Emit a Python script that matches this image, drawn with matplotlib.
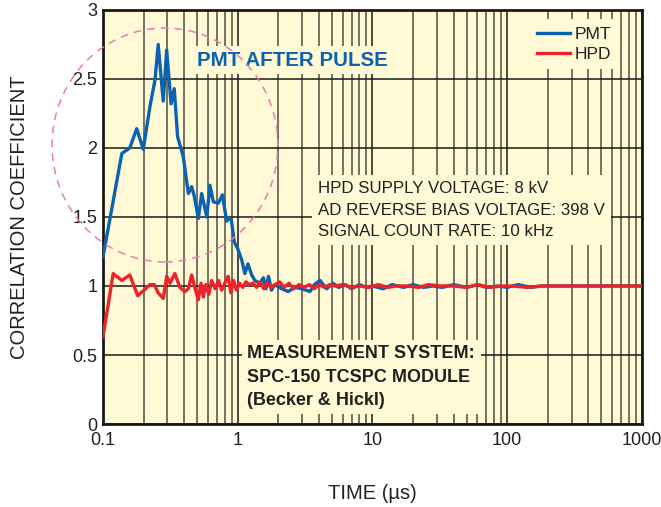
import matplotlib
matplotlib.use("Agg")
import matplotlib.pyplot as plt
from matplotlib.patches import Ellipse
from matplotlib.ticker import LogLocator, NullFormatter

plt.rcParams['font.family'] = ['Liberation Sans', 'DejaVu Sans']

# PMT curve (time in us, correlation coefficient)
pmt_t = [0.1, 0.138, 0.158, 0.178, 0.199, 0.223, 0.243, 0.257, 0.280, 0.297,
         0.320, 0.338, 0.358, 0.394, 0.430, 0.455, 0.476, 0.510, 0.540, 0.589,
         0.622, 0.659, 0.718, 0.769, 0.828, 0.861, 0.896, 0.942, 1.0, 1.07,
         1.13, 1.19, 1.27, 1.34, 1.46, 1.55, 1.62, 1.69, 1.78, 1.88,
         2.12, 2.37, 2.66, 2.99, 3.44, 3.7, 4.08, 4.57, 5.1, 5.6,
         6.3, 7.0, 8.0, 9.0, 10, 12, 14, 17, 20, 24,
         28, 33, 40, 50, 60, 70, 85, 100, 120, 150,
         180, 220, 300, 400, 600, 1000]
pmt_v = [1.21, 1.96, 2.00, 2.14, 1.99, 2.30, 2.49, 2.75, 2.34, 2.71,
         2.32, 2.43, 2.08, 1.94, 1.67, 1.72, 1.65, 1.49, 1.67, 1.50,
         1.73, 1.61, 1.60, 1.66, 1.47, 1.49, 1.48, 1.32, 1.27, 1.19,
         1.09, 1.16, 1.08, 1.04, 1.02, 1.06, 0.98, 1.07, 0.97, 1.01,
         0.98, 0.96, 0.99, 0.98, 0.96, 1.01, 1.04, 0.98, 1.02, 0.99,
         1.01, 0.98, 1.01, 0.99, 1.00, 0.98, 1.01, 0.99, 1.01, 0.99,
         1.00, 0.99, 1.01, 0.99, 1.01, 0.99, 1.00, 0.99, 1.01, 0.99,
         1.00, 1.00, 1.00, 1.00, 1.00, 1.00]

# HPD curve
hpd_t = [0.1, 0.119, 0.138, 0.158, 0.181, 0.202, 0.223, 0.24, 0.257, 0.28,
         0.297, 0.314, 0.342, 0.372, 0.406, 0.43, 0.455, 0.48, 0.51, 0.534,
         0.555, 0.58, 0.61, 0.64, 0.68, 0.72, 0.76, 0.80, 0.85, 0.89,
         0.93, 0.98, 1.03, 1.09, 1.15, 1.22, 1.3, 1.38, 1.47, 1.56,
         1.66, 1.76, 1.9, 2.05, 2.2, 2.4, 2.6, 2.85, 3.1, 3.4,
         3.7, 4.0, 4.4, 4.8, 5.3, 6, 7, 8, 9.5, 11,
         13, 15, 18, 22, 26, 32, 40, 50, 60, 75,
         90, 110, 140, 180, 250, 400, 1000]
hpd_v = [0.63, 1.09, 1.04, 1.08, 0.93, 0.97, 1.01, 1.01, 0.95, 0.91,
         1.07, 1.02, 1.09, 0.99, 0.96, 0.98, 1.08, 0.99, 0.90, 1.02,
         0.92, 1.01, 0.94, 1.04, 0.98, 1.04, 0.97, 1.02, 1.07, 0.95,
         1.04, 0.97, 1.02, 0.99, 1.03, 1.01, 1.02, 0.99, 1.03, 0.98,
         1.02, 0.99, 1.01, 1.03, 0.99, 1.02, 0.98, 1.01, 0.99, 1.01,
         0.98, 1.01, 0.99, 1.01, 1.00, 1.01, 0.99, 1.00, 0.99, 1.01,
         0.99, 1.00, 1.00, 0.99, 1.01, 1.00, 1.00, 0.99, 1.01, 0.99,
         1.00, 1.00, 0.99, 1.00, 1.00, 1.00, 1.00]

x_ticks = [0.1, 1, 10, 100, 1000]
x_labels = ['0.1', '1', '10', '100', '1000']
y_ticks = [0, 0.5, 1, 1.5, 2, 2.5, 3]
y_labels = ['0', '0.5', '1', '1.5', '2', '2.5', '3']

bg = '#fff9d6'
txt = '#231f20'

fig = plt.figure(figsize=(6.61, 5.07), dpi=100)
ax = fig.add_axes([0.1558, 0.1637, 0.8154, 0.8166])
ax.set_facecolor(bg)

ax.plot(pmt_t, pmt_v, color='#0a62b0', lw=2.4, label='PMT', zorder=3)
ax.plot(hpd_t, hpd_v, color='#ee2229', lw=2.4, label='HPD', zorder=4)

ax.set_xscale('log')
ax.set_xlim(0.1, 1000)
ax.set_ylim(0, 3)
ax.set_xticks(x_ticks)
ax.set_xticklabels(x_labels)
ax.xaxis.set_minor_locator(LogLocator(base=10, subs=range(2, 10)))
ax.xaxis.set_minor_formatter(NullFormatter())
ax.set_yticks(y_ticks)
ax.set_yticklabels(y_labels)
ax.tick_params(which='both', length=0, labelsize=13, labelcolor=txt)
ax.tick_params(axis='x', pad=6)
ax.tick_params(axis='y', pad=4)

ax.grid(True, which='major', axis='x', color='#1a1a1a', lw=1.1, zorder=1)
ax.grid(True, which='minor', axis='x', color='#6e6656', lw=1.3, zorder=1)
ax.grid(True, which='major', axis='y', color='#1a1a1a', lw=1.1, zorder=1)
ax.set_axisbelow(True)

for s in ax.spines.values():
    s.set_linewidth(2)
    s.set_color('#1a1a1a')

ax.set_xlabel('TIME (µs)', fontsize=14.5, color=txt, labelpad=25)
ax.set_ylabel('CORRELATION COEFFICIENT', fontsize=14.5, color=txt, labelpad=31)

leg = ax.legend(loc='upper right', bbox_to_anchor=(0.972, 0.998), frameon=True,
                fontsize=12.5, handlelength=1.9, handletextpad=0.3,
                labelspacing=0.3, borderpad=0.4)
leg.get_frame().set_facecolor(bg)
leg.get_frame().set_edgecolor('none')
leg.get_frame().set_alpha(1)
for t in leg.get_texts():
    t.set_color(txt)

ax.text(0.174, 0.879, 'PMT AFTER PULSE', transform=ax.transAxes,
        fontsize=14.8, fontweight='bold', color='#0a62b0', va='center',
        zorder=5, bbox=dict(facecolor=bg, edgecolor='none', pad=3))

ax.text(0.399, 0.588, 'HPD SUPPLY VOLTAGE: 8 kV\nAD REVERSE BIAS VOLTAGE: 398 V\nSIGNAL COUNT RATE: 10 kHz',
        transform=ax.transAxes, fontsize=12.2, color=txt, va='top', linespacing=1.58,
        zorder=5, bbox=dict(facecolor=bg, edgecolor='none', pad=4))

ax.text(0.268, 0.19, 'MEASUREMENT SYSTEM:\nSPC-150 TCSPC MODULE\n(Becker & Hickl)',
        transform=ax.transAxes, fontsize=13, fontweight='bold', color=txt,
        va='top', linespacing=1.48, zorder=5,
        bbox=dict(facecolor=bg, edgecolor='none', pad=4))

circ = Ellipse((0.115, 0.674), 0.419, 0.565, transform=ax.transAxes,
               fill=False, edgecolor='#e87bb5', lw=1.1, ls=(0, (5, 4)),
               clip_on=False, zorder=6)
ax.add_patch(circ)

fig.savefig('out.png', dpi=100)
